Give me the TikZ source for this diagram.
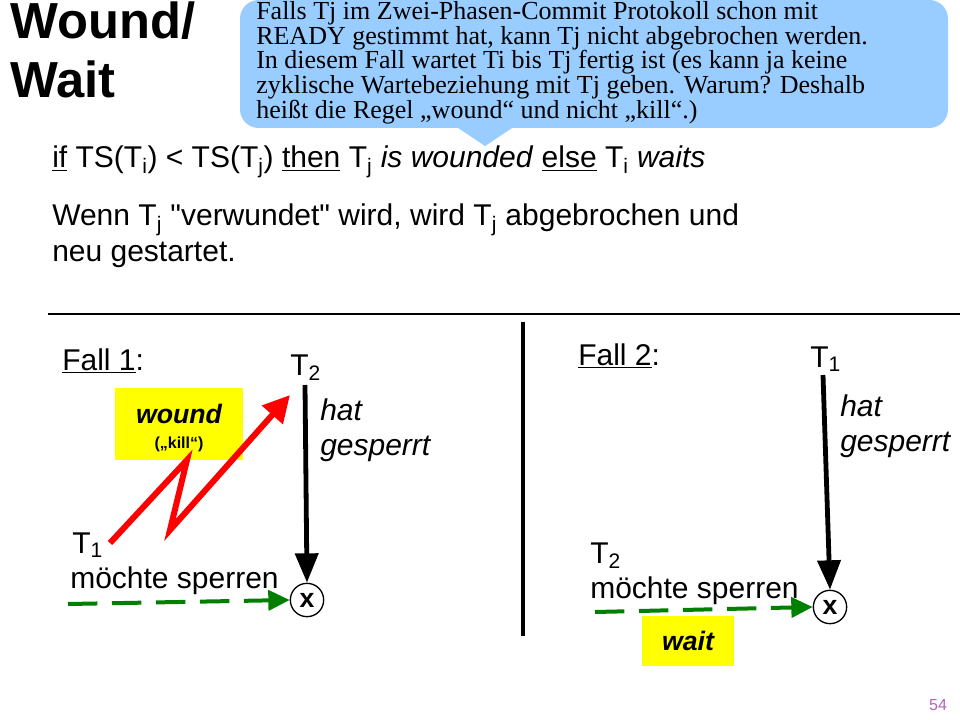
\documentclass[tikz,border=0pt]{standalone}
\usepackage{fontspec}
\setmainfont{Liberation Sans}
\newfontfamily\calloutfont{Liberation Serif}
\usetikzlibrary{arrows.meta,positioning,calc}
\definecolor{calloutBlue}{RGB}{153,204,255}
\definecolor{markYellow}{RGB}{255,255,0}
\definecolor{lockGreen}{RGB}{0,128,0}
\tikzset{
  txt/.style={anchor=base west,inner sep=0pt,font=\fontsize{22.5}{26}\selectfont},
  itxt/.style={txt,font=\itshape\fontsize{22.5}{26}\selectfont},
  tagbox/.style={fill=markYellow,align=center,inner sep=0pt},
  lockconn/.style={-{Triangle[length=22pt,width=17pt]},line width=3.6pt},
  wishconn/.style={-{Triangle[length=16pt,width=15pt]},line width=3pt,lockGreen,dash pattern=on 22pt off 11pt},
  cross/.style={draw,circle,line width=1pt,minimum size=25pt,inner sep=0pt,font=\bfseries\fontsize{20}{20}\selectfont},
}
\newcommand{\sbs}[1]{$_\mathrm{#1}$}
\begin{document}
\begin{tikzpicture}[x=0.75pt,y=-0.75pt]
\useasboundingbox (0,0) rectangle (960,720);
% --- Title and callout ------------------------------------------------------
  \node[anchor=north west,inner sep=0pt,align=left,font=\bfseries\fontsize{38}{44}\selectfont] (title) at (10,2) {Wound/\\Wait};
  \fill[calloutBlue,rounded corners=14pt] (240,0) rectangle (948,128);
  \fill[calloutBlue] (455,126) -- (485,146) -- (515,126) -- cycle;
  \node[anchor=north west,inner sep=0pt,align=left,font=\calloutfont\fontsize{19.5}{18.6}\selectfont] (note) at (256,1)
    {Falls Tj im Zwei-Phasen-Commit Protokoll schon mit\\READY gestimmt hat, kann Tj nicht abgebrochen werden.\\In diesem Fall wartet Ti bis Tj fertig ist (es kann ja keine\\zyklische Wartebeziehung mit Tj geben. Warum? Deshalb\\heißt die Regel „wound“ und nicht „kill“.)};
% --- Rule text ---------------------------------------------------------------
  \node[txt] (rule) at (52,168) {\underline{if} TS(T\sbs{i}) < TS(T\sbs{j}) \underline{then} T\sbs{j} \textit{is wounded} \underline{else} T\sbs{i} \textit{waits}};
  \node[txt] (wenn1) at (52,226) {Wenn T\sbs{j} \textquotedbl verwundet\textquotedbl{} wird, wird T\sbs{j} abgebrochen und};
  \node[txt] (wenn2) at (52,262) {neu gestartet.};
  \coordinate (hl) at (48,314);
  \coordinate (hr) at (960,314);
  \draw[line width=1.5pt] (hl) -- (hr);
  \coordinate (vt) at (523,322);
  \coordinate (vb) at (523,636);
  \draw[line width=3.6pt] (vt) -- (vb);
% --- Fall 1 ------------------------------------------------------------------
  \node[txt] (fall1) at (62,370) {\underline{Fall 1}:};
  \node[txt] (t2a) at (290,375) {T\sbs{2}};
  \node[itxt] (hat1) at (320,420) {hat};
  \node[itxt] (ges1) at (320,455) {gesperrt};
  \node[cross] (x1) at (307,600) {x};
  \coordinate (s1) at (305,385);
  \draw[lockconn] (s1) -- (x1.north);
  \node[tagbox,minimum width=96pt,minimum height=54pt] (wound) at (179,424) {};
  \node[font=\bfseries\itshape\fontsize{20}{20}\selectfont] (woundtxt) at (179,414) {wound};
  \node[font=\bfseries\fontsize{12}{12}\selectfont] (kill) at (179,444) {(„kill“)};
  \node[txt] (t1a) at (72,553) {T\sbs{1}};
  \node[txt] (m1) at (70,588) {möchte sperren};
  \coordinate (z0) at (110,543);
  \coordinate (z1) at (187,460);
  \coordinate (z2) at (170,530);
  \coordinate (z3) at (290,395);
  \draw[red,line width=4.5pt,-{Triangle[length=20pt,width=20pt]}] (z0) -- (z1) -- (z2) -- (z3);
  \coordinate (g1) at (68,604);
  \draw[wishconn] (g1) -- (x1.west);
% --- Fall 2 ------------------------------------------------------------------
  \node[txt] (fall2) at (578,365) {\underline{Fall 2}:};
  \node[txt] (t1b) at (810,367) {T\sbs{1}};
  \node[itxt] (hat2) at (840,416) {hat};
  \node[itxt] (ges2) at (840,451) {gesperrt};
  \node[cross] (x2) at (830,607) {x};
  \coordinate (s2) at (823,375);
  \draw[lockconn] (s2) -- (x2.north);
  \node[txt] (t2b) at (590,563) {T\sbs{2}};
  \node[txt] (m2) at (590,598) {möchte sperren};
  \node[tagbox,minimum width=69pt,minimum height=37pt,font=\bfseries\itshape\fontsize{20}{20}\selectfont] (wait) at (688,641) {wait};
  \coordinate (g2) at (595,612);
  \draw[wishconn] (g2) -- (x2.west);
% --- Page number -------------------------------------------------------------
  \node[text=violet!60,font=\fontsize{12}{12}\selectfont] (page) at (938,705) {54};
\end{tikzpicture}
\end{document}
